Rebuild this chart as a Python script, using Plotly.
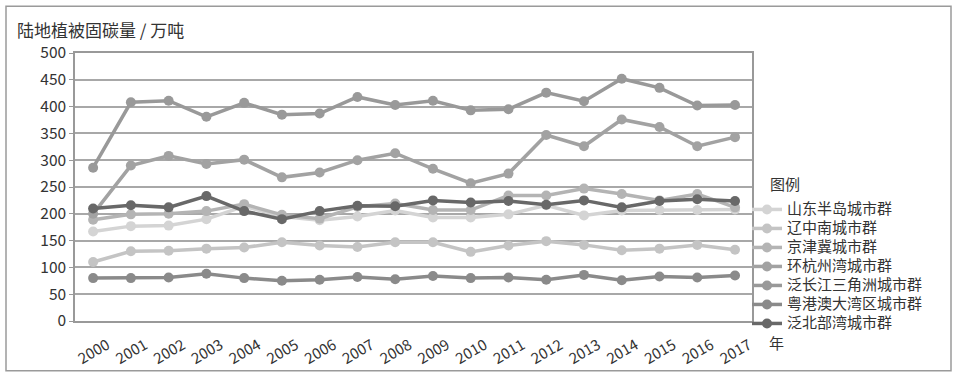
import plotly.graph_objects as go

years = list(range(2000, 2018))
year_labels = [str(y) for y in years]

names = ["山东半岛城市群", "辽中南城市群", "京津冀城市群", "环杭州湾城市群",
         "泛长江三角洲城市群", "粤港澳大湾区城市群", "泛北部湾城市群"]

shandong = [167, 177, 178, 190, 214, 195, 188, 195, 206, 193, 193, 199, 216, 197, 206, 207, 207, 208]
liaozhongnan = [110, 130, 131, 135, 137, 147, 141, 138, 147, 147, 129, 141, 149, 142, 132, 135, 142, 133]
jingjinji = [189, 199, 200, 205, 218, 198, 191, 213, 219, 207, 207, 234, 234, 247, 237, 225, 237, 212]
huanhangzhouwan = [200, 290, 308, 293, 301, 268, 277, 300, 313, 284, 257, 275, 347, 326, 376, 362, 326, 343]
fanchangjiang = [286, 408, 411, 381, 407, 385, 387, 418, 403, 411, 393, 395, 426, 410, 452, 435, 402, 403]
yuegangao = [80, 80, 81, 88, 80, 75, 77, 82, 78, 84, 80, 81, 77, 86, 76, 83, 81, 85]
fanbeibuwan = [210, 216, 212, 233, 205, 190, 205, 215, 214, 225, 221, 224, 217, 225, 212, 224, 227, 224]

series = [shandong, liaozhongnan, jingjinji, huanhangzhouwan, fanchangjiang, yuegangao, fanbeibuwan]
colors = ["#d4d4d4", "#c4c4c4", "#b4b4b4", "#a2a2a2", "#999999", "#8a8a8a", "#686868"]

y_ticks = list(range(0, 501, 50))

FONT = "Noto Sans CJK SC"

fig = go.Figure()
for name, vals, col in zip(names, series, colors):
    fig.add_trace(go.Scatter(
        x=years, y=vals, mode="lines+markers",
        name='<span style="font-size:15px">' + name + '</span>',
        line=dict(color=col, width=3.5),
        marker=dict(color=col, size=10),
    ))

# plot area: x 75..752, y 53..323 (pixels)
L, R, T, B = 75, 752, 53, 323
W, H = R - L, B - T

def px(xp):
    return (xp - L) / W

def py(yp):
    return (B - yp) / H

fig.update_layout(
    width=958, height=380,
    margin=dict(l=L, r=958 - R, t=T, b=380 - B, pad=0),
    paper_bgcolor="white", plot_bgcolor="white",
    font=dict(family=FONT, color="#333333", size=13),
    showlegend=True,
    legend=dict(
        x=px(747), y=py(196), xanchor="left", yanchor="top",
        font=dict(size=12, color="#333333"),
        itemwidth=30, tracegroupgap=0,
        bgcolor="rgba(0,0,0,0)",
    ),
    xaxis=dict(
        range=[1999.52, 2017.45],
        tickmode="array", tickvals=years, ticktext=year_labels,
        tickangle=-30, tickfont=dict(size=15, color="#333333"),
        ticklabelshift=14, ticklabelstandoff=8,
        showgrid=False, zeroline=False,
        showline=True, linecolor="#999999", linewidth=1.5, mirror=True,
        ticks="", fixedrange=True,
    ),
    yaxis=dict(
        range=[0, 500],
        tickmode="array", tickvals=y_ticks, ticktext=[str(v) for v in y_ticks],
        tickfont=dict(size=15.5, color="#333333"),
        showgrid=True, gridcolor="#a8a8a8", gridwidth=1.5,
        zeroline=False,
        showline=True, linecolor="#999999", linewidth=1.5, mirror=True,
        ticks="outside", ticklen=4, tickcolor="#999999",
    ),
    annotations=[
        dict(text="陆地植被固碳量 / 万吨", xref="paper", yref="paper",
             x=px(15), y=py(29), xanchor="left", yanchor="middle",
             showarrow=False, font=dict(size=17, color="#333333")),
        dict(text="图例", xref="paper", yref="paper",
             x=px(768), y=py(184), xanchor="left", yanchor="middle",
             showarrow=False, font=dict(size=15, color="#333333")),
        dict(text="年", xref="paper", yref="paper",
             x=px(767), y=py(345), xanchor="left", yanchor="middle",
             showarrow=False, font=dict(size=15, color="#333333")),
    ],
    shapes=[
        dict(type="rect", xref="paper", yref="paper",
             x0=px(6), x1=px(951), y0=py(373), y1=py(6),
             line=dict(color="#9a9a9a", width=1.5), fillcolor="rgba(0,0,0,0)",
             layer="below"),
    ],
)

fig.write_html(
    "out.html",
    config={"displayModeBar": False},
    post_script="document.body.style.margin='0px';document.body.style.overflow='hidden';",
)
